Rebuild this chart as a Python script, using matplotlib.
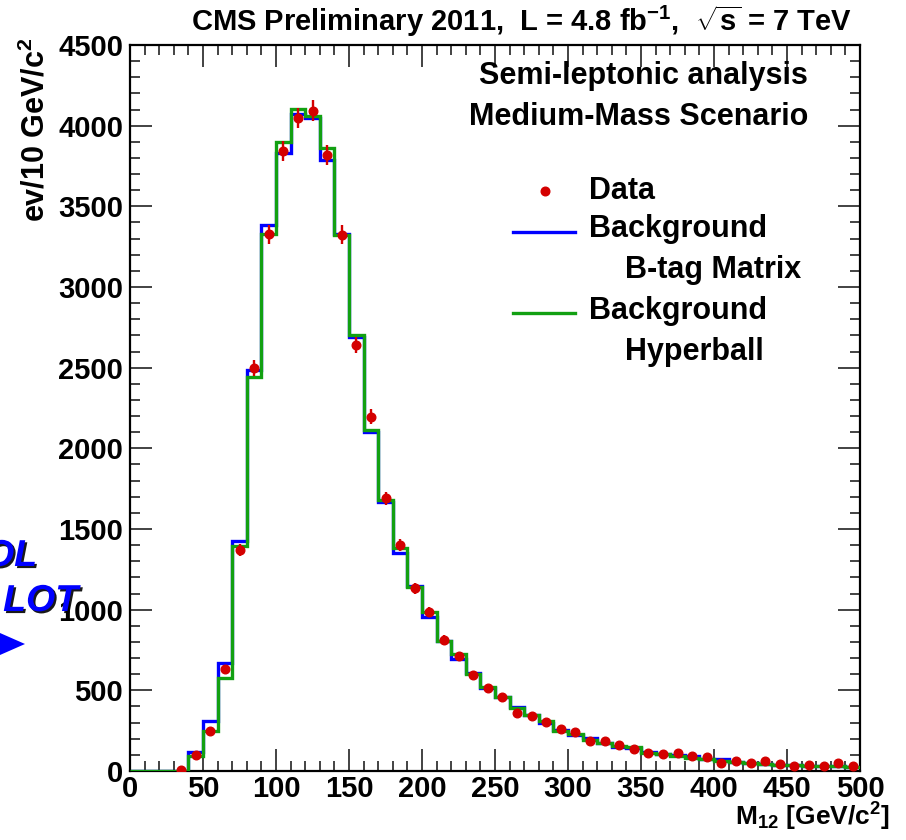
import numpy as np
import matplotlib
matplotlib.use("Agg")
import matplotlib.pyplot as plt
from matplotlib.ticker import MultipleLocator
from matplotlib.patches import Polygon
import matplotlib.patheffects as pe

# ---- data: 10 GeV bins from 0 to 500 ----
bin_edges = list(range(0, 510, 10))

bkg_btag = [0, 0, 0, 0, 120, 310, 670, 1424, 2485, 3384,
            3830, 4070, 4050, 3785, 3328, 2688, 2099, 1665, 1349, 1147,
            956, 807, 694, 609, 512, 457, 399, 347, 300, 253,
            223, 203, 172, 151, 145, 118, 108, 99, 93, 72,
            74, 55, 48, 44, 38, 35, 33, 31, 29, 27]

bkg_hyperball = [0, 0, 0, 0, 93, 245, 577, 1397, 2440, 3327,
                 3897, 4101, 4060, 3862, 3324, 2700, 2113, 1680, 1380, 1142,
                 983, 807, 723, 601, 519, 461, 388, 347, 312, 250,
                 229, 192, 176, 155, 147, 114, 105, 93, 79, 72,
                 64, 54, 48, 43, 37, 35, 33, 31, 29, 27]

data_x = [35, 45, 55, 65, 75, 85, 95, 105, 115, 125,
          135, 145, 155, 165, 175, 185, 195, 205, 215, 225,
          235, 245, 255, 265, 275, 285, 295, 305, 315, 325,
          335, 345, 355, 365, 375, 385, 395, 405, 415, 425,
          435, 445, 455, 465, 475, 485, 495]
data_y = [8, 100, 250, 632, 1370, 2500, 3327, 3840, 4047, 4093,
          3816, 3325, 2640, 2196, 1690, 1400, 1132, 983, 812, 713,
          595, 512, 459, 361, 341, 306, 258, 240, 188, 188,
          161, 134, 114, 105, 110, 93, 85, 48, 62, 52,
          64, 41, 31, 37, 33, 52, 33]
data_err = [3, 10, 16, 25, 37, 50, 58, 62, 64, 64,
            62, 58, 51, 47, 41, 37, 34, 31, 28, 27,
            24, 23, 21, 19, 18, 17, 16, 15, 14, 14,
            13, 12, 11, 10, 10, 10, 9, 7, 8, 7,
            8, 6, 6, 6, 6, 7, 6]

x_ticks = [0, 50, 100, 150, 200, 250, 300, 350, 400, 450, 500]
y_ticks = [0, 500, 1000, 1500, 2000, 2500, 3000, 3500, 4000, 4500]

# ---- style ----
plt.rcParams["font.family"] = ["Liberation Sans", "DejaVu Sans"]
plt.rcParams["font.weight"] = "bold"
plt.rcParams["mathtext.fontset"] = "custom"
plt.rcParams["mathtext.rm"] = "Liberation Sans:bold"
plt.rcParams["mathtext.it"] = "Liberation Sans:bold"
plt.rcParams["mathtext.bf"] = "Liberation Sans:bold"

W, H = 906, 840
fig = plt.figure(figsize=(W / 100, H / 100), dpi=100)


def fx(x):
    return x / W


def fy(y):
    return 1 - y / H


ax = fig.add_axes([fx(130), fy(771), fx(860) - fx(130), fy(45) - fy(771)])

RED = "#d40000"
BLUE = "#0000ff"
GREEN = "#12a012"

ax.stairs(bkg_btag, bin_edges, baseline=None, color=BLUE, lw=2.4, zorder=2)
ax.stairs(bkg_hyperball, bin_edges, baseline=None, color=GREEN, lw=2.4, zorder=3)
ax.errorbar(data_x, data_y, yerr=data_err, fmt="o", color=RED, ms=6.2,
            elinewidth=1.7, capsize=0, zorder=4)

ax.set_xlim(0, 500)
ax.set_ylim(0, 4500)
ax.set_xticks(x_ticks)
ax.set_yticks(y_ticks)
ax.set_xticklabels([str(v) for v in x_ticks])
ax.set_yticklabels([str(v) for v in y_ticks])
ax.xaxis.set_minor_locator(MultipleLocator(10))
ax.yaxis.set_minor_locator(MultipleLocator(100))
ax.tick_params(which="both", direction="in", top=True, right=True,
               width=1.2, color="#222222")
ax.tick_params(which="major", length=15.5)
ax.tick_params(which="minor", length=7.5)
ax.tick_params(axis="x", which="major", labelsize=21, pad=3)
ax.tick_params(axis="y", which="major", labelsize=21, pad=5)
for s in ax.spines.values():
    s.set_linewidth(1.6)

# axis titles
fig.text(fx(36), fy(37), r"ev/10 GeV/c$^{2}$", rotation=90, ha="center",
         va="top", fontsize=22, fontweight="bold")
fig.text(fx(890), fy(826), r"M$_{\mathregular{12}}$ [GeV/c$^{2}$]", ha="right",
         va="baseline", fontsize=19, fontweight="bold")

# header
fig.text(fx(852), fy(31), r"CMS Preliminary 2011,  L = 4.8 fb$^{-1}$,  $\sqrt{s}$ = 7 TeV",
         ha="right", va="baseline", fontsize=21, fontweight="bold")

# analysis labels
fig.text(fx(808), fy(76), "Semi-leptonic analysis", ha="right", va="center",
         fontsize=22, fontweight="bold")
fig.text(fx(808), fy(117), "Medium-Mass Scenario", ha="right", va="center",
         fontsize=22, fontweight="bold")

# legend
leg = fig.add_axes([0, 0, 1, 1], facecolor="none")
leg.set_xlim(0, W)
leg.set_ylim(H, 0)
leg.axis("off")
leg.plot([545], [191], "o", color=RED, ms=6.2)
leg.plot([513, 575], [232, 232], color=BLUE, lw=2.4)
leg.plot([513, 575], [313, 313], color=GREEN, lw=2.4)
lk = dict(va="center", ha="left", fontsize=22, fontweight="bold")
leg.text(589, 191, "Data", **lk)
leg.text(589, 229, "Background", **lk)
leg.text(625, 270, "B-tag Matrix", **lk)
leg.text(589, 311, "Background", **lk)
leg.text(625, 352, "Hyperball", **lk)

# control-plot tag at the left margin
shadow = [pe.withSimplePatchShadow(offset=(1.5, -1.5), shadow_rgbFace="black", alpha=0.9)]
leg.text(37, 556, "OL", ha="right", va="center", fontsize=27, fontweight="bold",
         fontstyle="italic", color=BLUE, path_effects=shadow)
leg.text(78, 601, "LOT", ha="right", va="center", fontsize=27, fontweight="bold",
         fontstyle="italic", color=BLUE, path_effects=shadow)
leg.add_patch(Polygon([[0, 633], [25, 644], [0, 655]], closed=True,
                      facecolor=BLUE, edgecolor="none"))

fig.savefig("out.png", dpi=100)
